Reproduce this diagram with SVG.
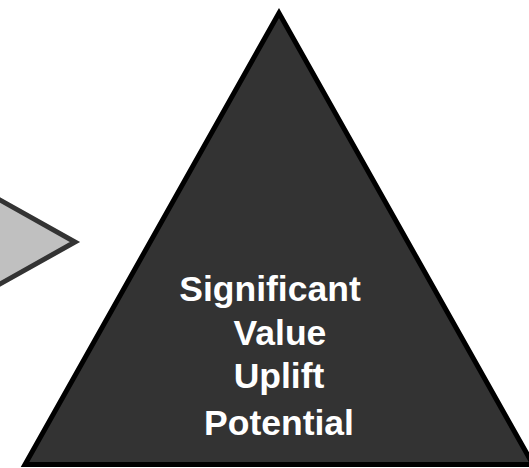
<svg xmlns="http://www.w3.org/2000/svg" width="529" height="468" viewBox="0 0 529 468">
  <style>
    .lbl { font-family: "Liberation Sans", Arial, sans-serif; font-weight: bold; font-size: 35.5px; fill: #ffffff; text-anchor: middle; }
  </style>
  <rect width="529" height="468" fill="#ffffff"/>
  <g id="arrow">
    <polygon points="-100,144 75,242 -100,340" fill="#c0c0c0" stroke="#333333" stroke-width="5" stroke-linejoin="miter" stroke-miterlimit="10"/>
  </g>
  <g id="pyramid">
    <polygon points="279,13 25,464.5 533,464.5" fill="#333333" stroke="#000000" stroke-width="5" stroke-linejoin="miter" stroke-miterlimit="10"/>
    <text class="lbl" x="270" y="301">Significant</text>
    <text class="lbl" x="280" y="345">Value</text>
    <text class="lbl" x="279" y="388">Uplift</text>
    <text class="lbl" x="279" y="435">Potential</text>
  </g>
  <g id="connectors"/>
</svg>
